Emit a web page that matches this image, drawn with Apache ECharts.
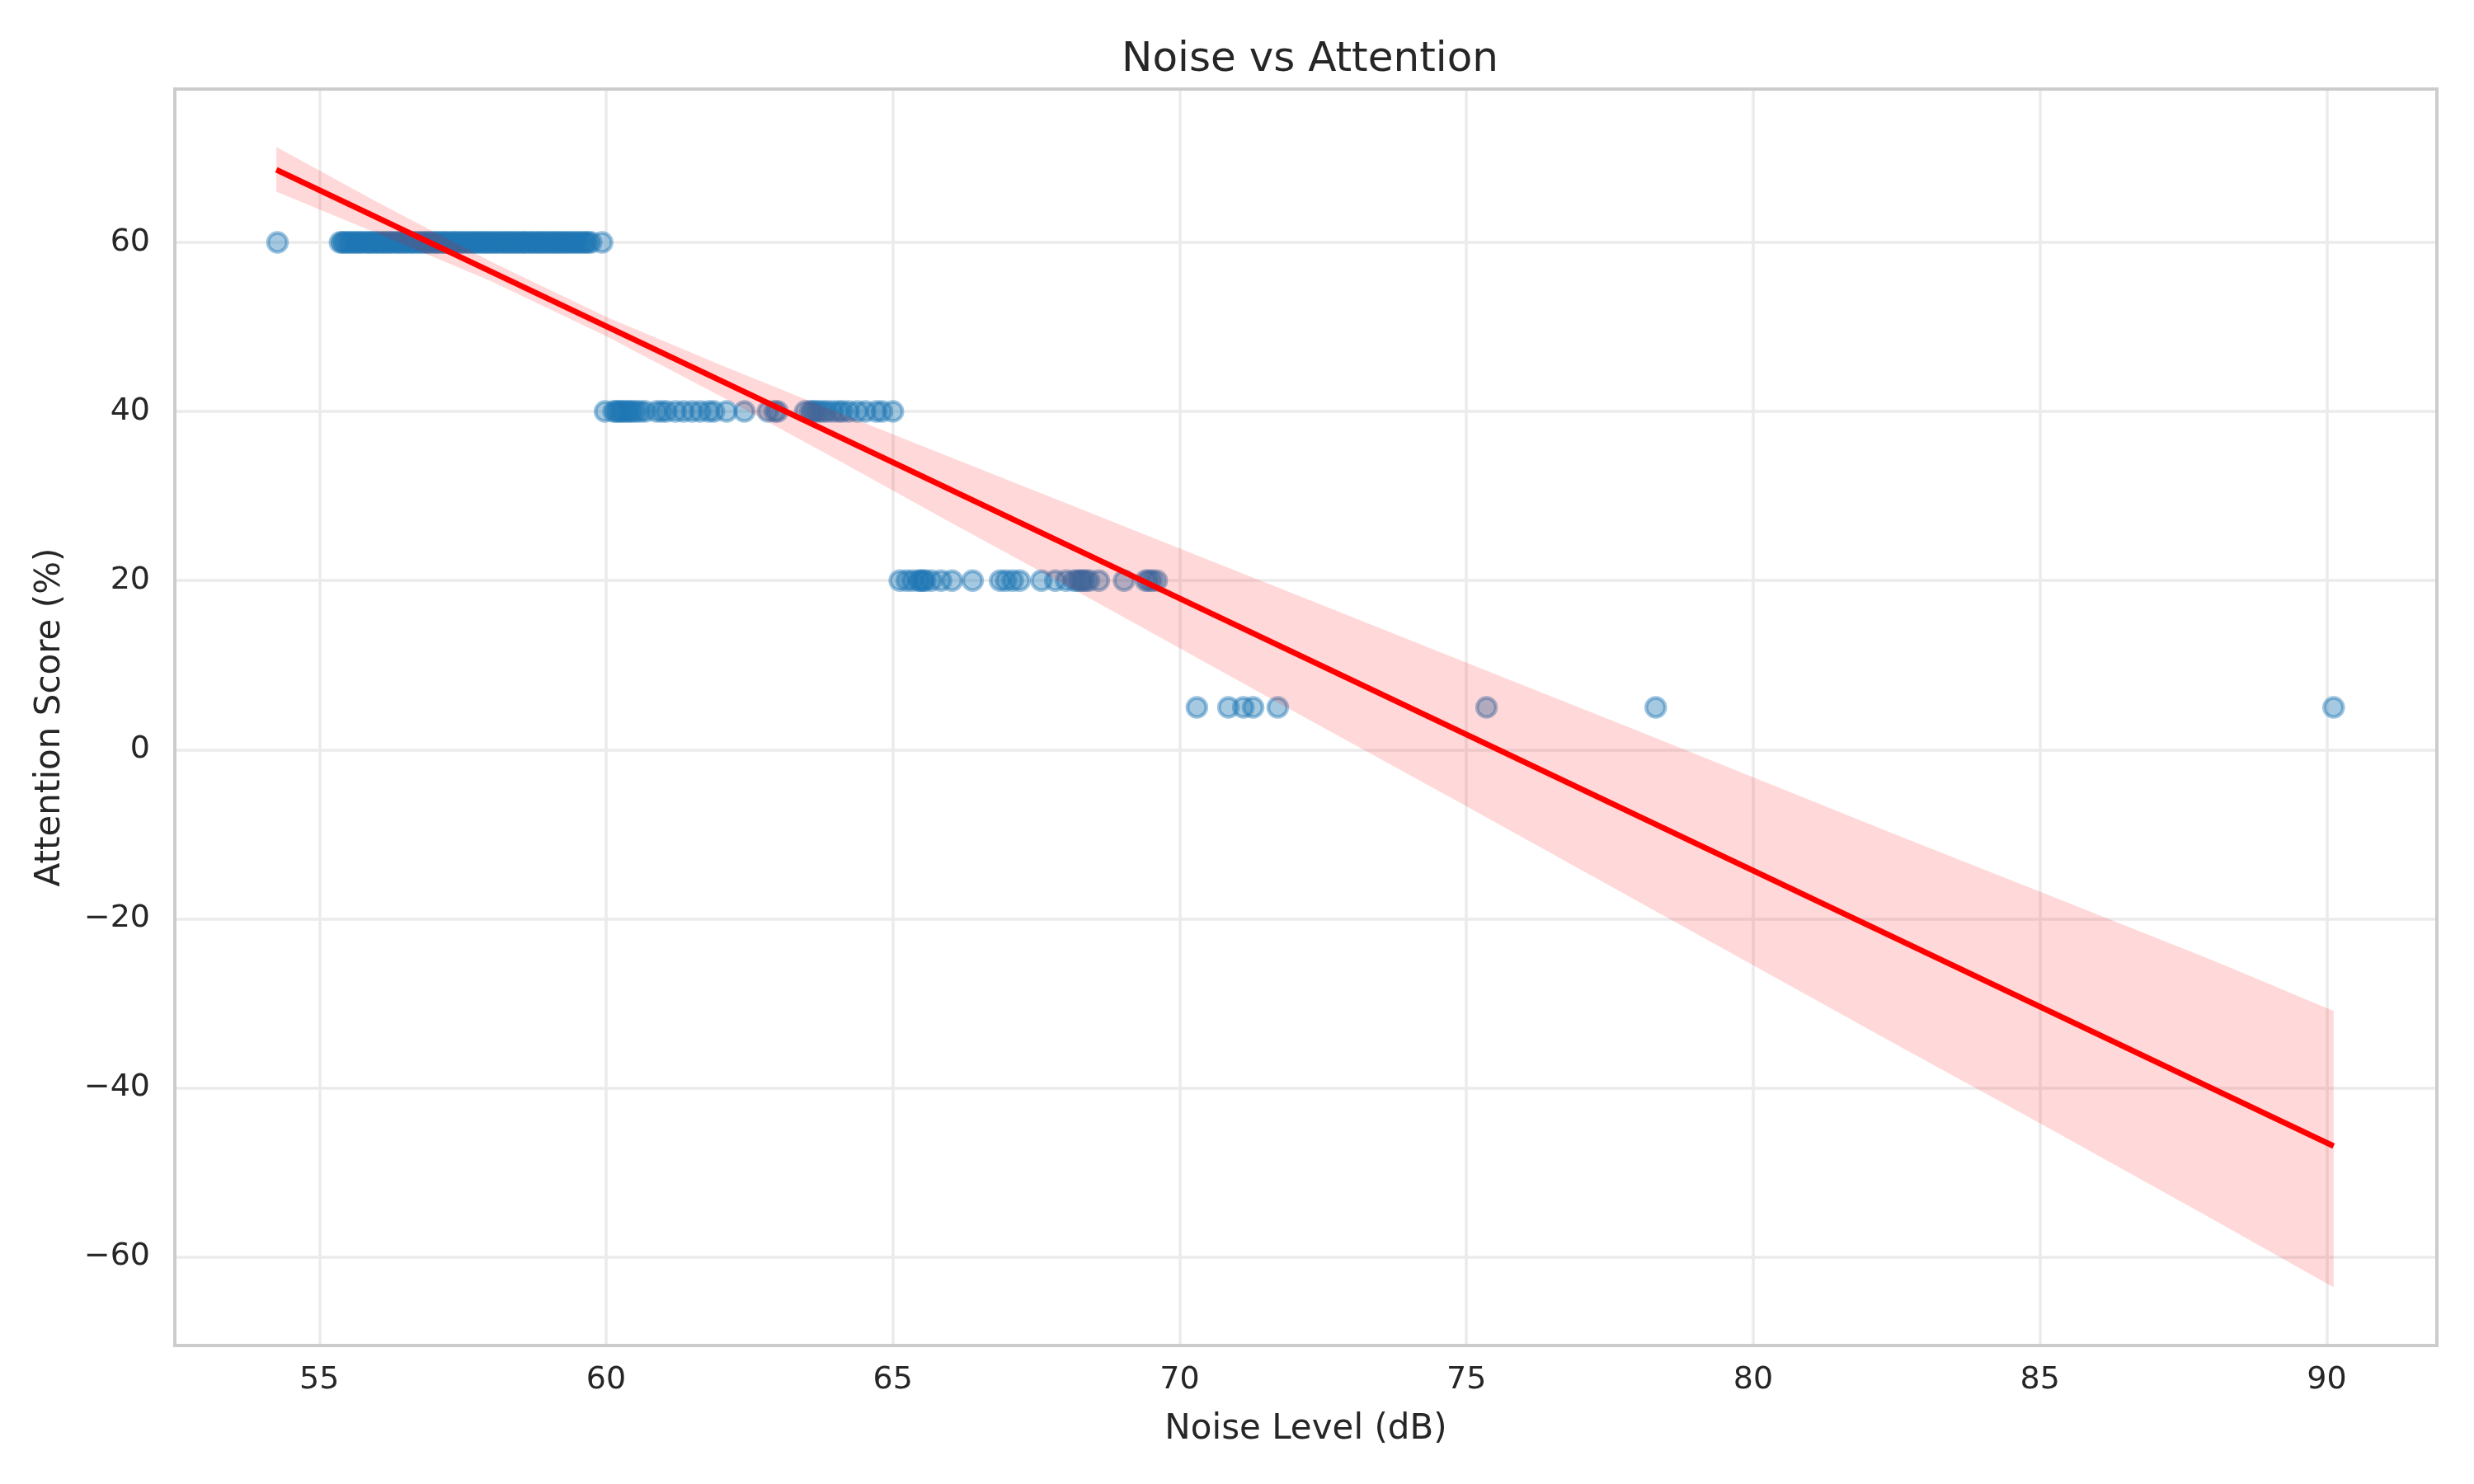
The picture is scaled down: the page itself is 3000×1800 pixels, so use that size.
<!DOCTYPE html>
<html>
<head>
<meta charset="utf-8">
<title>Noise vs Attention</title>
<script src="https://cdn.jsdelivr.net/npm/echarts@6/dist/echarts.min.js"></script>
<style>
  html, body { margin: 0; padding: 0; background: #ffffff; }
  #chart { width: 3000px; height: 1800px; }
</style>
</head>
<body>
<div id="chart"></div>
<script>
// scatter points, grouped by attention level
const noise60 = [
  54.27,
  55.36, 55.40, 55.43, 55.47, 55.52, 55.55, 55.60, 55.63, 55.68, 55.71, 55.75, 55.80,
  55.84, 55.88, 55.91, 55.96, 56.00, 56.03, 56.08, 56.12, 56.15, 56.20, 56.24, 56.27,
  56.33, 56.37, 56.40, 56.45, 56.49, 56.52, 56.58, 56.61, 56.65, 56.70, 56.74, 56.79,
  56.82, 56.87, 56.90, 56.94, 56.99, 57.03, 57.06, 57.11, 57.15, 57.19, 57.22, 57.27,
  57.31, 57.35, 57.38, 57.43, 57.47, 57.50, 57.56, 57.59, 57.63, 57.68, 57.71, 57.75,
  57.80, 57.83, 57.88, 57.92, 57.95, 58.00, 58.04, 58.08, 58.12, 58.16, 58.21, 58.24,
  58.28, 58.33, 58.36, 58.41, 58.44, 58.49, 58.53, 58.57, 58.60, 58.66, 58.69, 58.73,
  58.78, 58.82, 58.85, 58.90, 58.94, 58.98, 59.02, 59.07, 59.10, 59.15, 59.18, 59.23,
  59.27, 59.31, 59.35, 59.40, 59.44, 59.48, 59.52, 59.57, 59.61, 59.65, 59.69, 59.74,
  59.93
];
const noise40 = [
  59.98, 60.13, 60.17, 60.21, 60.25, 60.29, 60.33, 60.38, 60.42, 60.47, 60.53, 60.60,
  60.68, 60.88, 60.97, 61.05, 61.21, 61.35, 61.50, 61.64, 61.79, 61.88, 62.10, 62.41,
  62.82, 62.94, 62.99, 63.47, 63.56, 63.60, 63.65, 63.71, 63.78, 63.85, 63.95, 64.05,
  64.12, 64.23, 64.38, 64.52, 64.71, 64.81, 65.00
];
const noise20 = [
  65.12, 65.24, 65.34, 65.45, 65.48, 65.53, 65.56, 65.67, 65.84, 66.03, 66.39, 66.87,
  66.97, 67.09, 67.21, 67.59, 67.83, 68.02, 68.16, 68.22, 68.27, 68.31, 68.36, 68.42,
  68.59, 69.03, 69.41, 69.46, 69.52, 69.60
];
const noise5 = [70.30, 70.85, 71.11, 71.28, 71.71, 75.35, 78.30, 90.12];

// regression fit and its confidence band
const fitX = [54.25, 90.12];
const fitY = [68.6, -46.9];
const bandX = [54.25, 56, 58, 60, 62, 64, 66, 68, 70, 72, 75, 78, 82.5, 85, 88, 90.12];
const bandUpper = [71.3, 64.8, 57.7, 51.2, 45.5, 40.0, 34.6, 29.2, 23.8, 18.4, 10.3, 2.2, -10.1, -16.8, -24.9, -30.9];
const bandLower = [66.0, 61.1, 55.4, 48.9, 41.8, 34.4, 26.9, 19.5, 12.0, 4.5, -6.7, -18.0, -34.9, -44.2, -55.5, -63.6];

const levels = [[noise60, 60], [noise40, 40], [noise20, 20], [noise5, 5]];
const points = [];
levels.forEach(([xs, y]) => xs.forEach(x => points.push([x, y])));

const plot = { left: 212, top: 108, right: 45, bottom: 168 };
const W = 3000, H = 1800;
const textColor = "#262626";
const font = "DejaVu Sans";

const isTick = (v, step) => Math.abs(v / step - Math.round(v / step)) < 1e-6;

const chart = echarts.init(document.getElementById("chart"), null, { renderer: "canvas" });

const option = {
  animation: false,
  backgroundColor: "#ffffff",
  textStyle: { fontFamily: font, color: textColor },
  title: {
    text: "Noise vs Attention",
    left: (plot.left + W - plot.right) / 2,
    textAlign: "center",
    top: 43,
    textStyle: { fontFamily: font, fontSize: 50, fontWeight: "normal", color: textColor },
  },
  grid: { left: plot.left, top: plot.top, right: plot.right, bottom: plot.bottom, containLabel: false },
  xAxis: {
    type: "value",
    min: 52.48,
    max: 91.92,
    splitNumber: 8,
    name: "Noise Level (dB)",
    nameLocation: "middle",
    nameGap: 81,
    nameTextStyle: { fontFamily: font, fontSize: 42, color: textColor },
    axisLine: { show: false },
    axisTick: { show: false },
    axisLabel: {
      margin: 23,
      fontFamily: font,
      fontSize: 38,
      color: textColor,
      showMinLabel: false,
      showMaxLabel: false,
      formatter: v => (isTick(v, 5) ? String(v) : ""),
    },
    splitLine: { show: true, lineStyle: { color: "#ebebeb", width: 3.5 } },
  },
  yAxis: {
    type: "value",
    min: -70.48,
    max: 78.14,
    splitNumber: 7,
    name: "Attention Score (%)",
    nameLocation: "middle",
    nameGap: 130,
    nameTextStyle: { fontFamily: font, fontSize: 42, color: textColor },
    axisLine: { show: false },
    axisTick: { show: false },
    axisLabel: {
      margin: 30,
      fontFamily: font,
      fontSize: 38,
      color: textColor,
      showMinLabel: false,
      showMaxLabel: false,
      formatter: v => (isTick(v, 20) ? String(v).replace("-", "\u2212") : ""),
    },
    splitLine: { show: true, lineStyle: { color: "#ebebeb", width: 3.5 } },
  },
  graphic: [
    {
      type: "rect",
      z: 100,
      silent: true,
      shape: { x: plot.left, y: plot.top, width: W - plot.left - plot.right, height: H - plot.top - plot.bottom },
      style: { fill: "none", stroke: "#cccccc", lineWidth: 4 },
    },
  ],
  series: [
    {
      type: "scatter",
      z: 2,
      data: points,
      symbol: "circle",
      symbolSize: 23,
      itemStyle: {
        color: "rgba(31,119,180,0.5)",
        borderColor: "rgba(31,119,180,0.55)",
        borderWidth: 4.5,
      },
      emphasis: { disabled: true },
    },
    {
      type: "custom",
      z: 3,
      silent: true,
      data: [[bandX[0], bandLower[0]]],
      renderItem: (params, api) => {
        const pts = [];
        bandX.forEach((x, i) => pts.push(api.coord([x, bandUpper[i]])));
        for (let i = bandX.length - 1; i >= 0; i--) pts.push(api.coord([bandX[i], bandLower[i]]));
        return { type: "polygon", shape: { points: pts }, style: { fill: "rgba(255,0,0,0.15)" } };
      },
    },
    {
      type: "line",
      z: 4,
      data: fitX.map((x, i) => [x, fitY[i]]),
      symbol: "none",
      lineStyle: { color: "#ff0000", width: 7 },
      emphasis: { disabled: true },
    },
  ],
};

chart.setOption(option);
</script>
</body>
</html>
